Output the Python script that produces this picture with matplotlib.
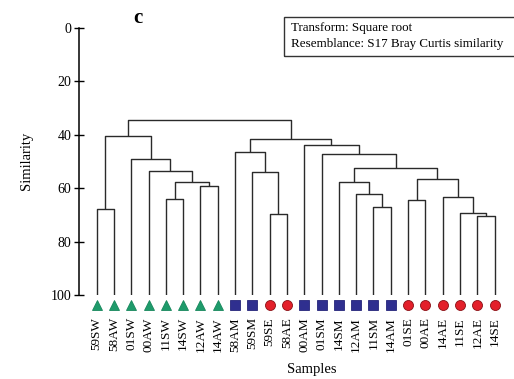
import matplotlib
matplotlib.use("Agg")
import matplotlib.pyplot as plt
from matplotlib.patches import Rectangle

plt.rcParams['font.family'] = ['Liberation Serif', 'DejaVu Serif']

# Sample labels in dendrogram leaf order
labels = ["59SW", "58AW", "01SW", "00AW", "11SW", "14SW", "12AW", "14AW",
          "58AM", "59SM", "59SE", "58AE", "00AM", "01SM", "14SM", "12AM",
          "11SM", "14AM", "01SE", "00AE", "14AE", "11SE", "12AE", "14SE"]
# Group of each sample (last letter of its label)
groups = ["W", "W", "W", "W", "W", "W", "W", "W",
          "M", "M", "E", "E", "M", "M", "M", "M",
          "M", "M", "E", "E", "E", "E", "E", "E"]

# Cluster merges: (left node, right node, similarity %); new nodes numbered from 24
merge_left = [22, 10, 21, 0, 16, 18, 4, 20, 15, 6, 30, 14, 29, 3, 9, 35, 2, 13, 8, 12, 42, 27, 45]
merge_right = [23, 11, 24, 1, 17, 19, 5, 26, 28, 7, 33, 32, 31, 34, 25, 36, 37, 39, 38, 41, 43, 40, 44]
merge_sim = [70.3, 69.5, 69.2, 67.8, 67.2, 64.3, 64.0, 63.3, 62.3, 59.2, 57.8, 57.7,
             56.4, 53.4, 53.8, 52.4, 49.0, 47.2, 46.3, 43.9, 41.7, 40.4, 34.5]

marker_style = {"W": dict(marker="^", color="#1e9b6b", mec="#17875c"),
                "M": dict(marker="s", color="#2f2f8f", mec="#25257a"),
                "E": dict(marker="o", color="#e3202a", mec="#8a1015")}

W, H = 514, 379
fig = plt.figure(figsize=(W / 100, H / 100), dpi=100)
ax = fig.add_axes([79 / W, 1 - 295 / H, 1 - 79 / W, (295 - 28) / H])

n = len(labels)
node_x = {i: float(i) for i in range(n)}
node_y = {i: 100.0 for i in range(n)}
line_kw = dict(color="#2a2a2a", lw=1.0, solid_capstyle="butt")
for k, (a, b, s) in enumerate(zip(merge_left, merge_right, merge_sim)):
    xa, xb = node_x[a], node_x[b]
    ax.plot([xa, xa, xb, xb], [node_y[a], s, s, node_y[b]], **line_kw)
    node_x[n + k] = (xa + xb) / 2
    node_y[n + k] = s

for i, g in enumerate(groups):
    st = marker_style[g]
    ax.plot(i, 103.6, marker=st["marker"], color=st["color"], mec=st["mec"],
            mew=0.6, ms=7.2, clip_on=False, ls="none")

ax.set_xlim(-1.02, 24.12)
ax.set_ylim(100, 0)
ax.set_yticks([0, 20, 40, 60, 80, 100])
ax.tick_params(axis="y", direction="inout", length=7, width=1, labelsize=10, pad=2)
ax.set_xticks(range(n))
ax.set_xticklabels(labels, rotation=90, fontsize=9.5)
ax.tick_params(axis="x", length=0, pad=16)
for side in ["top", "right", "bottom"]:
    ax.spines[side].set_visible(False)
ax.spines["left"].set_linewidth(1.1)
ax.patch.set_alpha(0)

fig.text(27 / W, 1 - 161 / H, "Similarity", rotation=90, ha="center", va="center", fontsize=10.5)
fig.text(312 / W, 1 - 370 / H, "Samples", ha="center", va="center", fontsize=10.5)
fig.text(138 / W, 1 - 18 / H, "c", ha="center", va="center", fontsize=15, fontweight="bold")

fig.patches.append(Rectangle((284 / W, 1 - 56 / H), 240 / W, 39 / H, transform=fig.transFigure,
                             fill=False, edgecolor="#333333", lw=1.0))
fig.text(291 / W, 1 - 28 / H, "Transform: Square root", ha="left", va="center", fontsize=9.4)
fig.text(291 / W, 1 - 44 / H, "Resemblance: S17 Bray Curtis similarity", ha="left", va="center", fontsize=9.4)

fig.savefig("out.png", dpi=100)
